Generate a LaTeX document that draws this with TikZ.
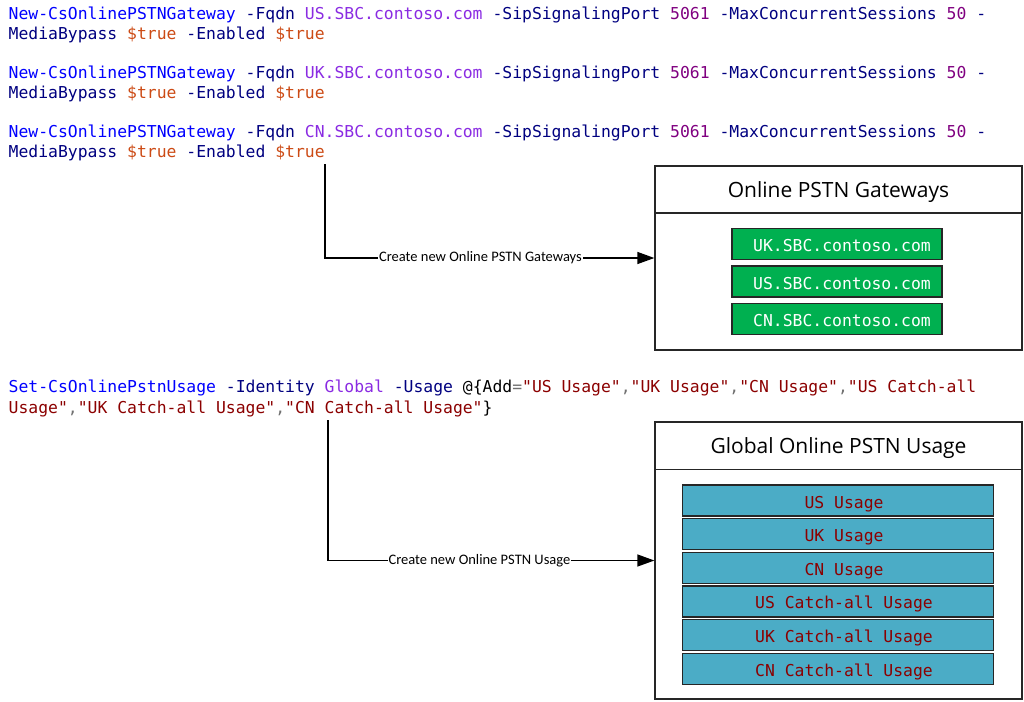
\documentclass[tikz,border=0pt]{standalone}
\usepackage{fontspec}
\setmainfont{Open Sans}
\setmonofont{DejaVu Sans Mono}
\newfontfamily\lblfont{Carlito}
\usetikzlibrary{arrows.meta}
\definecolor{cmdblue}{HTML}{0000FF}
\definecolor{parnavy}{HTML}{000080}
\definecolor{argviolet}{HTML}{8A2BE2}
\definecolor{numpurple}{HTML}{800080}
\definecolor{varred}{HTML}{CC4A14}
\definecolor{strred}{HTML}{8B0000}
\definecolor{opgray}{HTML}{707070}
\definecolor{gwgreen}{HTML}{00B050}
\definecolor{usaqua}{HTML}{4BACC6}
\newcommand\cCmd[1]{\textcolor{cmdblue}{#1}}
\newcommand\cPar[1]{\textcolor{parnavy}{#1}}
\newcommand\cArg[1]{\textcolor{argviolet}{#1}}
\newcommand\cNum[1]{\textcolor{numpurple}{#1}}
\newcommand\cVar[1]{\textcolor{varred}{#1}}
\newcommand\cStr[1]{\textcolor{strred}{#1}}
\newcommand\cOp[1]{\textcolor{opgray}{#1}}
\begin{document}
\begin{tikzpicture}[x=1pt,y=-1pt,
  code/.style={anchor=base west, inner sep=0pt, font=\fontsize{16.4}{20}\ttfamily},
  outerbox/.style={draw=black!85, line width=1.3pt, fill=white, inner sep=0pt},
  titletext/.style={inner sep=0pt, font=\fontsize{21}{25}\selectfont, text=black},
  itembox/.style={draw=black!85, line width=1.5pt, minimum height=31pt, inner sep=0pt, text height=15pt, text depth=0pt, font=\fontsize{16.4}{20}\ttfamily},
  gwbox/.style={itembox, fill=gwgreen, minimum width=210pt, text=white},
  usbox/.style={itembox, fill=usaqua, minimum width=311pt, text=strred},
  conn/.style={draw=black, line width=1.3pt, -{Triangle[length=17pt,width=12pt]}},
  lbl/.style={fill=white, inner sep=1pt, font=\lblfont\fontsize{14.5}{16}\selectfont, text=black}
]
\useasboundingbox (0,0) rectangle (1024,701);

% code block 1
\node[code] (c1a) at (8.5,19.3) {\cCmd{New-CsOnlinePSTNGateway} \cPar{-Fqdn} \cArg{US.SBC.contoso.com} \cPar{-SipSignalingPort} \cNum{5061} \cPar{-MaxConcurrentSessions} \cNum{50} \cPar{-}};
\node[code] (c1b) at (8.5,39.3) {\cPar{MediaBypass} \cVar{\$true} \cPar{-Enabled} \cVar{\$true}};
\node[code] (c2a) at (8.5,78) {\cCmd{New-CsOnlinePSTNGateway} \cPar{-Fqdn} \cArg{UK.SBC.contoso.com} \cPar{-SipSignalingPort} \cNum{5061} \cPar{-MaxConcurrentSessions} \cNum{50} \cPar{-}};
\node[code] (c2b) at (8.5,98) {\cPar{MediaBypass} \cVar{\$true} \cPar{-Enabled} \cVar{\$true}};
\node[code] (c3a) at (8.5,137) {\cCmd{New-CsOnlinePSTNGateway} \cPar{-Fqdn} \cArg{CN.SBC.contoso.com} \cPar{-SipSignalingPort} \cNum{5061} \cPar{-MaxConcurrentSessions} \cNum{50} \cPar{-}};
\node[code] (c3b) at (8.5,157) {\cPar{MediaBypass} \cVar{\$true} \cPar{-Enabled} \cVar{\$true}};

% code block 2
\node[code] (c4a) at (8.5,392.7) {\cCmd{Set-CsOnlinePstnUsage} \cPar{-Identity} \cArg{Global} \cPar{-Usage} @\{Add\cOp{=}\cStr{"US Usage"}\cOp{,}\cStr{"UK Usage"}\cOp{,}\cStr{"CN Usage"}\cOp{,}\cStr{"US Catch-all}};
\node[code] (c4b) at (8.5,413) {\cStr{Usage"}\cOp{,}\cStr{"UK Catch-all Usage"}\cOp{,}\cStr{"CN Catch-all Usage"}\}};

% gateways box
\node[outerbox, minimum width=367pt, minimum height=184pt] (gw) at (838.5,258) {};
\draw[line width=1.3pt, black!85] (gw.west |- 0,213) -- (gw.east |- 0,213);
\node[titletext] (gwT) at (838.5,192) {Online PSTN Gateways};
\node[gwbox] (g1) at (837,244) {\hspace*{10pt}UK.SBC.contoso.com};
\node[gwbox] (g2) at (837,281.7) {\hspace*{10pt}US.SBC.contoso.com};
\node[gwbox] (g3) at (837,319.2) {\hspace*{10pt}CN.SBC.contoso.com};

% usage box
\node[outerbox, minimum width=367pt, minimum height=277pt] (us) at (838.5,560.5) {};
\draw[line width=1.3pt, black!85] (us.west |- 0,469.3) -- (us.east |- 0,469.3);
\node[titletext] (usT) at (838.5,448) {Global Online PSTN Usage};
\node[usbox] (u1) at (838,500.5) {\hspace*{12pt}US Usage};
\node[usbox] (u2) at (838,534) {\hspace*{12pt}UK Usage};
\node[usbox] (u3) at (838,567.8) {\hspace*{12pt}CN Usage};
\node[usbox] (u4) at (838,601.3) {\hspace*{12pt}US Catch-all Usage};
\node[usbox] (u5) at (838,635) {\hspace*{12pt}UK Catch-all Usage};
\node[usbox] (u6) at (838,668.8) {\hspace*{12pt}CN Catch-all Usage};

% connectors
\coordinate (s1) at (325,164);
\coordinate (s2) at (328,420);
\draw[conn] (s1) |- node[lbl, pos=0.736] {Create new Online PSTN Gateways} (gw.west);
\draw[conn] (s2) |- node[lbl, pos=0.732] {Create new Online PSTN Usage} (us.west);
\end{tikzpicture}
\end{document}
